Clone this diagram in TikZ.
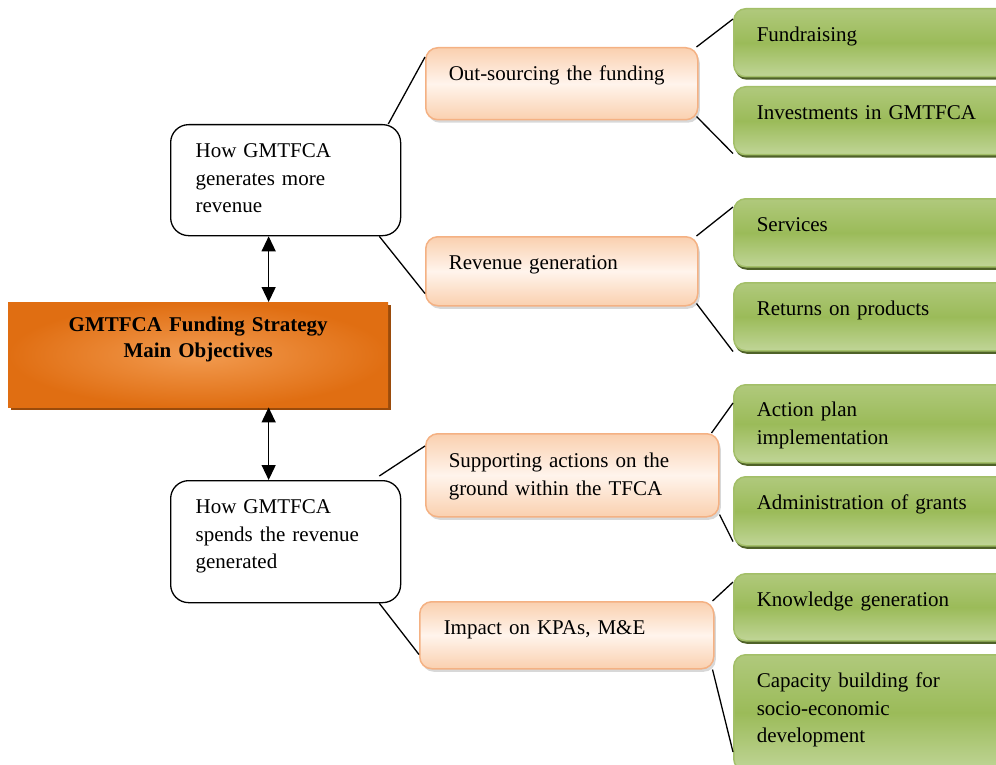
\documentclass[tikz,border=0pt]{standalone}
\usepackage{fontspec}
\setmainfont{Liberation Serif}
\usetikzlibrary{arrows.meta,shadows}
\definecolor{peachline}{HTML}{F4B183}
\definecolor{peachtop}{HTML}{FAD0AF}
\definecolor{peachmid}{HTML}{FFF4EC}
\definecolor{greenline}{HTML}{A3BF68}
\definecolor{greentop}{HTML}{B0C97C}
\definecolor{greenmid}{HTML}{9BBB59}
\definecolor{greenbot}{HTML}{C0D597}
\definecolor{greenshadow}{HTML}{4F6228}
\definecolor{orangein}{HTML}{F29B50}
\definecolor{orangeout}{HTML}{E06E12}
\definecolor{orangeshadow}{HTML}{9A4B0B}
\begin{document}
\begin{tikzpicture}[x=1pt, y=-1pt, font=\fontsize{21}{27.5}\selectfont]
\tikzstyle{box}=[anchor=north west, inner ysep=0pt, text height=33pt, align=left]
\tikzstyle{white box}=[box, draw, line width=1.3pt, rounded corners=18pt, fill=white, inner xsep=25pt, text width=180pt]
\tikzstyle{peach box}=[box, draw=peachline, line width=1.5pt, rounded corners=12pt, top color=peachtop, bottom color=peachtop, middle color=peachmid, inner xsep=23pt, drop shadow={shadow xshift=2pt, shadow yshift=-3pt, fill=black!30, opacity=0.5}]
\tikzstyle{green box}=[box, draw=greenline, line width=1.5pt, rounded corners=12pt, top color=greentop, bottom color=greenbot, middle color=greenmid, inner xsep=23pt, text width=230pt, drop shadow={shadow xshift=1pt, shadow yshift=-3pt, fill=greenshadow, opacity=1}]
\tikzstyle{link}=[line width=1.3pt]
\useasboundingbox (0,0) rectangle (996,765);
% centre box
\node [anchor=north west, inner sep=0pt, text width=380pt, align=center, text height=29pt, text depth=76pt, font=\fontsize{21}{26}\selectfont\bfseries, shading=radial, inner color=orangein, outer color=orangeout, drop shadow={shadow xshift=3pt, shadow yshift=-3pt, fill=orangeshadow, opacity=1}] (main) at (8,302) {GMTFCA Funding Strategy\\Main Objectives};
% left side
\node [white box, text depth=78pt] (how1) at (170,124) {How GMTFCA\\generates more\\revenue};
\node [white box, text depth=89pt] (how2) at (170,480) {How GMTFCA\\spends the revenue\\generated};
% middle column
\node [peach box, text width=226pt, text depth=39pt] (out) at (425,47) {Out-sourcing the funding};
\node [peach box, text width=226pt, text depth=36pt] (rev) at (425,236) {Revenue generation};
\node [peach box, text width=247pt, text height=34pt, text depth=49pt] (supp) at (425,433) {Supporting actions on the\\ground within the TFCA};
\node [peach box, inner xsep=24pt, text width=246pt, text depth=34pt] (imp) at (419,601) {Impact on KPAs, M\&E};
% right column
\node [green box, text depth=35pt] (fund) at (733,8) {Fundraising};
\node [green box, text depth=35pt] (inv) at (733,86) {Investments in GMTFCA};
\node [green box, text depth=35pt] (serv) at (733,198) {Services};
\node [green box, text depth=35pt] (ret) at (733,282) {Returns on products};
\node [green box, text height=32pt, text depth=46pt] (act) at (733,384) {Action plan\\implementation};
\node [green box, text depth=36pt] (adm) at (733,476) {Administration of grants};
\node [green box, text depth=34pt] (know) at (733,573) {Knowledge generation};
\node [green box, text depth=83pt] (cap) at (733,654) {Capacity building for\\socio-economic\\development};
% arrows
\draw [link, <->, >={Triangle[length=15pt, width=14pt]}] ([xshift=-17pt]how1.south) -- ([xshift=-17pt]how1.south |- main.north);
\draw [link, <->, >={Triangle[length=15pt, width=14pt]}] ([xshift=-17pt]how2.north) -- ([xshift=-17pt]how2.north |- main.south);
% connectors
\draw [link] ([xshift=-13pt]how1.north east) -- ([yshift=-10pt]out.north west);
\draw [link] ([xshift=-22pt]how1.south east) -- ([yshift=13pt]rev.south west);
\draw [link] ([xshift=-2pt]out.north east) -- ([yshift=-11pt]fund.north west);
\draw [link] ([xshift=-2pt, yshift=4pt]out.south east) -- ([yshift=2pt]inv.south west);
\draw [link] ([xshift=-2pt]rev.north east) -- ([yshift=-9pt]serv.north west);
\draw [link] ([xshift=-2pt, yshift=3pt]rev.south east) -- (ret.south west);
\draw [link] ([xshift=-22pt, yshift=4pt]how2.north east) -- ([yshift=-13pt]supp.north west);
\draw [link] ([xshift=-8pt]supp.north east) -- ([yshift=-19pt]act.north west);
\draw [link] ([yshift=3pt]supp.south east) -- ([yshift=5pt]adm.south west);
\draw [link] ([xshift=-22pt]how2.south east) -- ([yshift=15pt]imp.south west);
\draw [link] ([xshift=-2pt]imp.north east) -- ([yshift=-9pt]know.north west);
\draw [link] ([xshift=-2pt]imp.south east) -- ([yshift=-98pt]cap.north west);
\end{tikzpicture}
\end{document}
